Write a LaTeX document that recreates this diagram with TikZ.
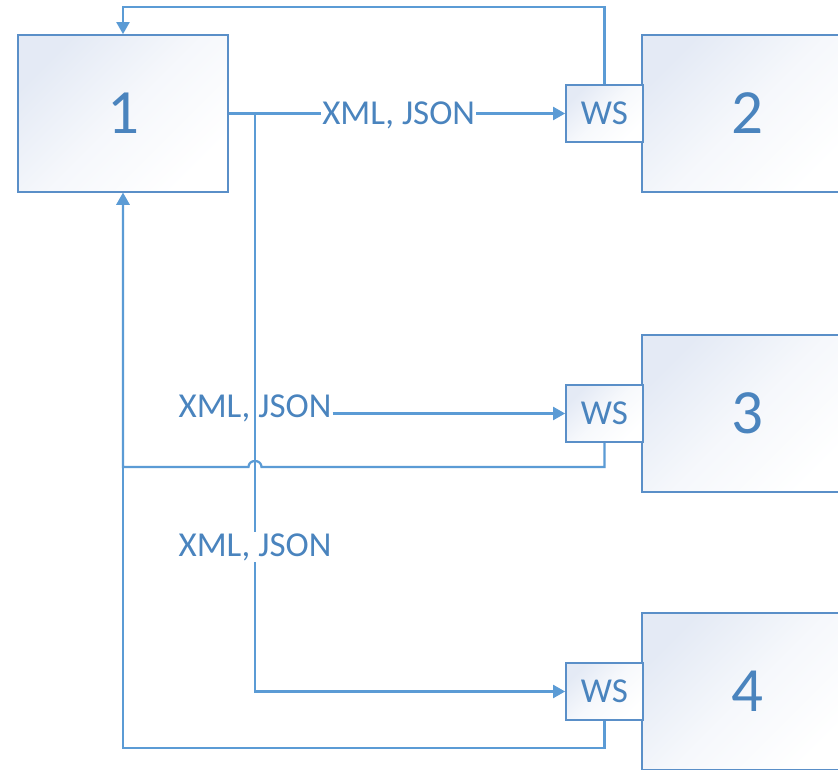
\documentclass[tikz,border=0pt]{standalone}
\usepackage{fontspec}
\setmainfont{Carlito}
\usetikzlibrary{arrows.meta}
\definecolor{ln}{HTML}{5B9BD5}
\definecolor{bd}{HTML}{5A8FC8}
\definecolor{tx}{HTML}{4A84BE}
\definecolor{sh}{HTML}{E4EAF5}
\begin{document}
\begin{tikzpicture}[x=1pt,y=-1pt,
  bigbox/.style={draw=bd, line width=1.8pt, top color=sh, bottom color=white, middle color=white!65!sh, shading angle=45,
    minimum width=210pt, minimum height=157pt, inner sep=0pt, text=tx, font=\fontsize{63}{63}\selectfont},
  wsbox/.style={draw=bd, line width=1.8pt, top color=sh, bottom color=white, middle color=white!70!sh, shading angle=45,
    minimum width=77pt, minimum height=57pt, inner sep=0pt, text=tx, font=\fontsize{35}{35}\selectfont},
  wire/.style={draw=ln, line width=2.2pt},
  arr/.style={wire, -{Triangle[length=12pt,width=13pt]}},
  lbl/.style={text=tx, font=\fontsize{35}{35}\selectfont, inner sep=1pt}]
\useasboundingbox (0,0) rectangle (838,770);
\fill[white] (0,0) rectangle (838,770);
% main boxes
\node[bigbox] (b1) at (123,113.5) {1};
\node[bigbox] (b2) at (747,113.5) {2};
\node[bigbox] (b3) at (747,413.5) {3};
\node[bigbox] (b4) at (747,691.5) {4};
% web service boxes
\node[wsbox] (ws2) at (604.5,113.5) {WS};
\node[wsbox] (ws3) at (604.5,413.5) {WS};
\node[wsbox] (ws4) at (604.5,691.5) {WS};
% junction coordinates
\coordinate (j) at (255,113.5);
\coordinate (hp) at (255,467);
% 1 -> WS2
\draw[arr] (b1.east) -- node[lbl, fill=white, pos=0.505, yshift=-1.5pt]{XML, JSON} (ws2.west);
% 1 -> WS4 (vertical trunk)
\draw[arr] (b1.east) -- (j) -- node[lbl, fill=white, pos=0.75]{XML, JSON} (j |- ws4.west) -- (ws4.west);
% 1 -> WS3
\node[lbl] (l3) at (255,408) {XML, JSON};
\draw[arr] (l3.east |- ws3.west) -- (ws3.west);
% returns
\draw[arr] (ws2.north) -- ++(0,-77) -| (b1.north);
\draw[arr] (ws3.south) |- ([xshift=6.5pt]hp) .. controls ([xshift=6.5pt,yshift=8pt]hp) and ([xshift=-6.5pt,yshift=8pt]hp) .. ([xshift=-6.5pt]hp) -- (b1.south |- hp) -- (b1.south);
\draw[arr] (ws4.south) -- ++(0,27) -| (b1.south);
\end{tikzpicture}
\end{document}
